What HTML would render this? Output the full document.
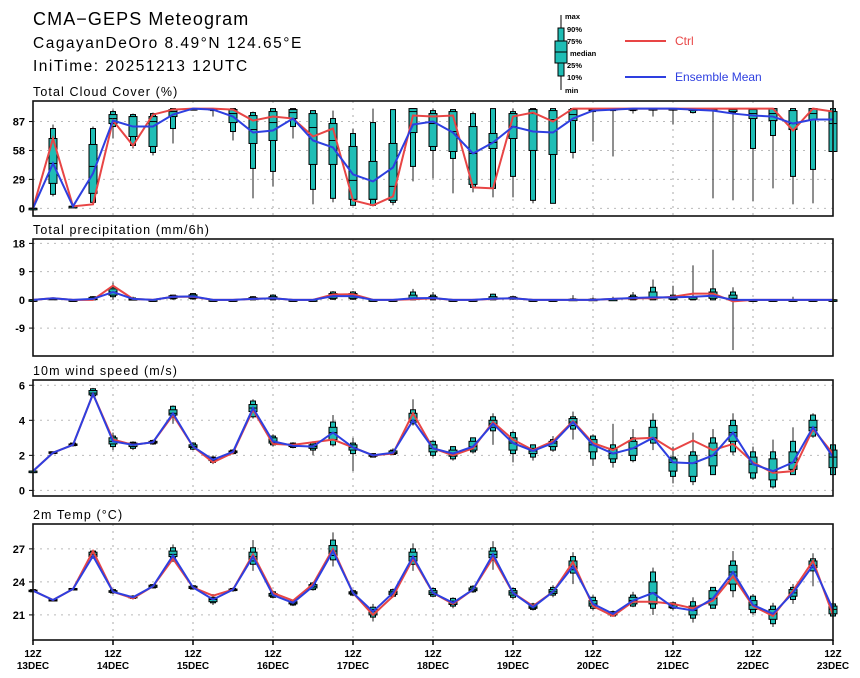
<!DOCTYPE html>
<html><head><meta charset="utf-8"><style>
body{margin:0;background:#fff;}
svg{display:block;font-family:"Liberation Sans",sans-serif;}
</style></head><body>
<svg id="chart" width="860" height="678" viewBox="0 0 860 678" xmlns="http://www.w3.org/2000/svg">
<rect width="860" height="678" fill="#fff"/>
<text x="33" y="25" font-size="18" letter-spacing="1.1">CMA−GEPS Meteogram</text>
<text x="33" y="48" font-size="15.5" letter-spacing="1.5">CagayanDeOro 8.49°N 124.65°E</text>
<text x="33" y="71" font-size="15.5" letter-spacing="1.5">IniTime: 20251213 12UTC</text>
<g>
<line x1="561" y1="15" x2="561" y2="90" stroke="#000"/>
<rect x="558" y="28" width="6" height="48" fill="#1fbdb5" stroke="#000"/>
<rect x="555" y="41" width="12" height="22" fill="#1fbdb5" stroke="#000"/>
<line x1="555" y1="52" x2="567" y2="52" stroke="#000"/>
<g font-size="7.5" font-weight="bold">
<text x="565" y="19">max</text><text x="567" y="32">90%</text><text x="567" y="44">75%</text>
<text x="570" y="56">median</text><text x="567" y="68">25%</text><text x="567" y="80">10%</text><text x="565" y="93">min</text></g>
</g>
<g><line x1="625" y1="41" x2="666" y2="41" stroke="#e84545" stroke-width="2"/><text x="675" y="45" font-size="12" fill="#e84545">Ctrl</text></g>
<g><line x1="625" y1="77" x2="666" y2="77" stroke="#2e3fe0" stroke-width="2"/><text x="675" y="81" font-size="12" fill="#2e3fe0">Ensemble Mean</text></g>
<g id="panels"></g>
</svg>
<script>
// ===== data (index = 6-hourly step from 12Z 13DEC) =====
const dayLabels = ["13DEC","14DEC","15DEC","16DEC","17DEC","18DEC","19DEC","20DEC","21DEC","22DEC","23DEC"];
// cloud cover boxes: [min,p10,p25,median,p75,p90,max]
const cloudBox = [[0,0,0,0,0,0,0],[12,14,25,45,70,80,84],[1,1,1,2,2,2,2],[5,6,15,42,64,80,82],[70,82,85,90,94,97,99],[60,63,72,72,92,94,95],[53,56,62,87,92,95,96],[65,80,92,97,99,100,100],[99,100,100,100,100,100,100],[92,98,99,100,100,100,100],[68,77,86,95,99,100,100],[10,40,65,79,93,96,97],[22,37,68,86,97,100,100],[70,82,90,96,99,100,100],[4,19,44,81,95,98,98],[6,10,44,68,85,90,98],[3,3,9,28,62,75,80],[2,3,9,9,47,86,100],[3,6,8,22,65,99,99],[27,42,76,97,100,100,100],[30,58,62,85,95,98,100],[15,50,57,77,97,99,99],[16,21,24,55,82,95,97],[11,20,60,66,75,100,100],[11,32,70,82,95,97,100],[5,8,58,95,99,100,100],[5,5,54,89,98,100,100],[50,56,88,94,99,100,100],[67,97,98,99,100,100,100],[52,98,99,100,100,100,100],[95,98,99,100,100,100,100],[92,99,100,100,100,100,100],[84,100,100,100,100,100,100],[95,96,98,99,100,100,100],[10,99,99,100,100,100,100],[8,96,97,99,100,100,100],[7,60,90,95,99,100,100],[20,73,88,95,100,100,100],[4,32,79,85,98,100,100],[5,39,89,95,100,100,100],[55,57,57,85,97,100,100]];
const cloudCtrl = [0,70,2,4,88,63,94,99,100,100,99,88,92,90,72,80,8,3,12,93,92,93,21,20,92,96,87,100,100,100,100,100,100,100,100,100,100,100,78,100,97];
const cloudMean = [0,45,2,35,88,82,82,94,100,99,92,76,78,90,68,61,34,27,41,84,87,76,55,66,82,77,76,90,98,99,100,100,100,99,98,95,93,92,85,89,89];
// precipitation
const precBox = [[0,0,0,0,0,0,0],[0.3,0.4,0.5,0.5,0.5,0.6,0.6],[0,0,0,0,0,0,0],[0,0,0.1,0.3,0.8,1,1.2],[0,1,1.5,2.5,3.5,4,5.5],[0,0,0.1,0.2,0.4,0.6,1],[0,0,0,0,0,0,0],[0,0.3,0.5,0.9,1.3,1.5,1.6],[0,0.3,0.5,1.1,1.6,2,2.2],[0,0,0,0,0,0,0],[0,0,0,0,0,0,0],[0,0,0.1,0.3,0.7,1,1.2],[0,0,0.2,0.5,1,1.5,1.8],[0,0,0,0,0,0,0],[0,0,0,0,0,0,0],[0,0.2,0.5,1.2,2,2.5,2.8],[0,0.2,0.5,1.2,2,2.5,2.8],[0,0,0,0,0,0,0],[0,0,0,0,0,0,0],[0,0,0.3,0.5,1.5,2.5,3.5],[0,0,0.3,0.6,1,1.5,2.5],[0,0,0,0,0,0,0],[0,0,0,0,0,0,0.3],[0,0,0.2,0.4,1,1.8,2],[0,0.2,0.3,0.5,0.8,1,1.2],[0,0,0,0,0,0,0],[0,0,0,0,0,0,0],[0,0,0,0,0.2,0.3,1.5],[0,0,0,0,0.2,0.3,0.8],[0,0,0,0.1,0.2,0.3,1],[0,0,0.2,0.5,1,1.5,2.5],[0,0,0.3,0.8,2.5,4,6.5],[0,0,0.2,0.8,1,1.5,4.5],[0,0,0.2,0.8,1,1,11],[0,0,0.5,1.2,2.5,3.5,16],[-16,0,0.2,0.5,1.5,2.5,4],[0,0,0,0,0,0,0],[0,0,0,0,0,0,0],[0,0,0,0,0,0,1],[0,0,0,0,0,0,0],[0,0,0,0,0,0,0]];
const precCtrl = [0,0.5,0,0,4.5,0.3,0,1,1,0,0,0.3,0.5,0,0,1.7,1.8,0,0,0.2,0.5,0,0,0.3,0.5,0,0,0,0,0.3,0.5,0.5,1,2,2,-0.5,0,0,0,0,0];
const precMean = [0,0.5,0,0.3,2.5,0.3,0,1,1.1,0,0,0.3,0.5,0,0,1.2,1.2,0,0,0.5,0.6,0,0,0.4,0.5,0,0,0,0,0.3,0.6,0.8,0.8,1,1.3,0,0,0,0,0,0];
// 10m wind
const windBox = [[1.1,1.1,1.1,1.1,1.1,1.1,1.1],[2.1,2.1,2.15,2.15,2.2,2.2,2.2],[2.5,2.55,2.6,2.6,2.65,2.7,2.7],[5.3,5.4,5.45,5.55,5.7,5.8,5.85],[2.3,2.5,2.65,2.8,3.0,3.1,3.3],[2.3,2.4,2.5,2.6,2.7,2.75,2.8],[2.6,2.65,2.7,2.75,2.8,2.85,2.9],[3.8,4.2,4.3,4.4,4.6,4.8,4.85],[2.3,2.35,2.45,2.5,2.6,2.7,2.75],[1.5,1.6,1.7,1.75,1.85,1.9,2.0],[2.05,2.1,2.15,2.2,2.25,2.3,2.35],[4.1,4.2,4.5,4.7,4.9,5.1,5.2],[2.5,2.6,2.7,2.8,3.0,3.1,3.2],[2.4,2.45,2.5,2.55,2.65,2.7,2.75],[2.0,2.3,2.4,2.5,2.6,2.7,2.8],[2.5,2.6,2.9,3.3,3.6,3.9,4.3],[1.1,2.1,2.3,2.45,2.6,2.7,3.0],[1.9,1.9,1.95,2.0,2.05,2.1,2.1],[2.0,2.05,2.1,2.15,2.25,2.3,2.4],[3.7,3.8,3.9,4.0,4.4,4.6,5.2],[1.9,2.0,2.2,2.4,2.6,2.8,2.9],[1.7,1.8,1.95,2.1,2.3,2.5,2.5],[2.1,2.2,2.3,2.5,2.8,3.0,3.0],[2.6,3.4,3.6,3.8,4.0,4.2,4.4],[1.6,2.1,2.3,2.7,3.0,3.3,3.4],[1.7,1.9,2.1,2.25,2.4,2.6,2.6],[2.2,2.3,2.5,2.7,2.8,2.9,3.1],[2.9,3.5,3.7,3.9,4.1,4.2,4.5],[1.4,1.8,2.2,2.6,2.9,3.1,3.2],[1.3,1.6,1.8,2.1,2.4,2.6,3.8],[1.6,1.7,2.0,2.4,2.8,3.0,3.5],[2.3,2.7,2.9,3.0,3.6,4.0,4.4],[0.4,0.8,1.1,1.6,1.8,1.9,2.5],[0.3,0.5,0.8,1.55,2.0,2.2,3.3],[0.9,0.9,1.4,2.0,2.7,3.0,3.5],[2.0,2.2,2.8,3.3,3.7,4.0,4.4],[0.6,0.7,1.0,1.5,1.9,2.2,2.5],[0.1,0.2,0.6,1.1,1.8,2.2,2.9],[0.9,0.9,1.2,1.6,2.2,2.8,3.6],[3.0,3.1,3.4,3.6,4.0,4.3,4.4],[0.8,0.9,1.3,1.9,2.3,2.6,2.6]];
const windCtrl = [1.1,2.15,2.6,5.5,2.9,2.6,2.75,4.3,2.5,1.6,2.15,4.6,2.65,2.6,2.75,2.9,2.45,2.0,2.1,4.4,2.4,2.0,2.4,3.9,2.9,2.3,2.8,3.95,2.7,2.3,2.95,3.0,2.3,2.85,2.3,2.65,1.6,1.0,1.1,3.5,2.1];
const windMean = [1.1,2.15,2.6,5.5,2.8,2.6,2.75,4.4,2.5,1.75,2.2,4.7,2.8,2.55,2.5,3.3,2.45,2.0,2.15,4.0,2.4,2.1,2.5,3.8,2.7,2.25,2.7,3.9,2.6,2.1,2.4,3.0,1.6,1.55,2.0,3.3,1.5,1.1,1.6,3.6,1.9];
// 2m temperature
const tempBox = [[23.1,23.1,23.15,23.2,23.25,23.3,23.3],[22.3,22.3,22.3,22.35,22.4,22.4,22.4],[23.3,23.3,23.3,23.35,23.4,23.4,23.4],[26.1,26.2,26.3,26.5,26.7,26.8,26.9],[22.9,23.0,23.05,23.1,23.2,23.3,23.3],[22.4,22.5,22.55,22.6,22.7,22.7,22.8],[23.4,23.45,23.5,23.6,23.7,23.75,23.8],[25.8,26.1,26.3,26.5,26.8,27.1,27.4],[23.3,23.35,23.4,23.5,23.6,23.65,23.7],[21.9,22.1,22.2,22.4,22.5,22.6,22.9],[23.1,23.2,23.25,23.3,23.35,23.4,23.5],[25.0,25.6,25.9,26.3,26.7,27.1,27.8],[22.5,22.6,22.7,22.8,22.95,23.1,23.2],[21.8,21.9,22.0,22.1,22.2,22.3,22.4],[23.2,23.3,23.45,23.6,23.75,23.9,24.0],[25.4,26.0,26.4,26.8,27.3,27.8,28.5],[22.7,22.8,22.9,23.0,23.1,23.2,23.3],[20.4,20.8,21.0,21.3,21.5,21.7,22.0],[22.6,22.7,22.85,23.0,23.15,23.3,23.4],[25.0,25.6,25.9,26.3,26.7,27.0,27.5],[22.6,22.7,22.85,23.0,23.2,23.4,23.5],[21.6,21.8,21.95,22.1,22.25,22.5,22.6],[23.0,23.1,23.2,23.3,23.45,23.6,23.7],[25.1,26.0,26.2,26.5,26.8,27.1,27.7],[22.4,22.6,22.8,23.0,23.2,23.4,23.5],[21.4,21.5,21.6,21.7,21.85,22.0,22.1],[22.6,22.8,22.95,23.1,23.3,23.5,23.7],[23.8,24.8,25.1,25.4,25.9,26.3,26.7],[21.4,21.6,21.8,22.0,22.3,22.6,22.8],[20.9,20.9,21.0,21.1,21.2,21.3,21.4],[21.7,21.8,22.0,22.3,22.6,22.8,23.1],[21.0,21.6,22.0,23.0,24.0,24.9,25.3],[21.4,21.6,21.65,21.7,21.9,22.1,22.2],[20.3,20.7,21.0,21.4,21.8,22.2,22.6],[21.6,21.6,21.9,22.5,23.2,23.5,23.5],[22.6,23.2,23.8,24.9,25.5,25.9,26.8],[21.0,21.2,21.5,21.9,22.3,22.7,22.9],[19.9,20.2,20.6,21.1,21.5,21.8,22.1],[22.0,22.4,22.7,23.0,23.3,23.5,23.8],[23.6,25.0,25.3,25.5,25.9,26.1,26.6],[20.8,20.9,21.1,21.5,21.8,22.0,22.2]];
const tempCtrl = [23.2,22.35,23.35,26.8,23.1,22.5,23.6,26.1,23.5,22.75,23.3,26.5,23.0,22.3,23.8,27.0,23.0,21.0,22.7,26.1,23.0,22.0,23.3,26.2,23.0,21.8,23.1,25.8,21.8,20.9,22.2,22.2,22.0,21.6,22.3,24.5,21.8,20.9,23.2,25.9,21.0];
const tempMean = [23.2,22.35,23.35,26.35,23.1,22.6,23.6,26.4,23.5,22.4,23.3,26.3,22.8,22.1,23.6,26.8,23.0,21.3,23.0,26.3,23.0,22.1,23.3,26.5,23.0,21.7,23.1,25.4,22.0,21.1,22.3,23.0,21.7,21.4,22.5,24.9,21.9,21.1,23.0,25.5,21.5];
const cloudTicks = [0,29,58,87];
const precTicks = [-9,0,9,18];
const windTicks = [0,2,4,6];
const tempTicks = [21,24,27];

// ===== drawing =====
const NS = "http://www.w3.org/2000/svg";
const root = document.getElementById("panels");
const X0 = 33, X1 = 833, N = 40;
const xScale = i => X0 + (X1 - X0) * i / N;
function mk(tag, attrs, parent) {
  const e = document.createElementNS(NS, tag);
  for (const k in attrs) e.setAttribute(k, attrs[k]);
  (parent || root).appendChild(e);
  return e;
}
const panels = [
  {name:"cloud", title:"Total Cloud Cover (%)", top:101, bot:216, vmin:-7.7, vmax:107.6, ticks:cloudTicks, box:cloudBox, ctrl:cloudCtrl, mean:cloudMean},
  {name:"precip", title:"Total precipitation (mm/6h)", top:239, bot:356, vmin:-17.9, vmax:19.4, ticks:precTicks, box:precBox, ctrl:precCtrl, mean:precMean},
  {name:"wind", title:"10m wind speed (m/s)", top:380, bot:496, vmin:-0.32, vmax:6.3, ticks:windTicks, box:windBox, ctrl:windCtrl, mean:windMean},
  {name:"temp", title:"2m Temp (°C)", top:524, bot:640, vmin:18.72, vmax:29.26, ticks:tempTicks, box:tempBox, ctrl:tempCtrl, mean:tempMean}
];
panels.forEach(p => {
  const g = mk("g", {});
  
  
  const y = v => p.bot - (v - p.vmin) / (p.vmax - p.vmin) * (p.bot - p.top);
  const t = mk("text", {x: X0, y: p.top - 5, "font-size": 12.5, "letter-spacing": 1.1}, g);
  t.textContent = p.title;
  
  
  for (let d = 1; d < dayLabels.length - 1; d++) {
    const gl = mk("line", {x1: xScale(d*4), x2: xScale(d*4), y1: p.top, y2: p.bot, stroke: "#aaa", "stroke-dasharray": "2,5"}, g);
    
    
  }
  p.ticks.forEach(v => {
    const hl = mk("line", {x1: X0, x2: X1, y1: y(v), y2: y(v), stroke: "#bbb", "stroke-dasharray": "2,5"}, g);
    
    
    mk("line", {x1: X0 - 4, x2: X0, y1: y(v), y2: y(v), stroke: "#000"}, g);
    const tl = mk("text", {x: X0 - 8, y: y(v) + 4, "font-size": 11, "font-weight": "bold", "text-anchor": "end"}, g);
    tl.textContent = v;
    
    
  });
  p.box.forEach((b, i) => {
    const cx = xScale(i);
    const bg = mk("g", {}, g);
    
    
    mk("line", {x1: cx, x2: cx, y1: y(b[0]), y2: y(b[6]), stroke: "#444", "stroke-width": 1.2}, bg);
    mk("rect", {x: cx - 2.5, y: y(b[5]), width: 5, height: Math.max(1.5, y(b[1]) - y(b[5])), fill: "#1fbdb5", stroke: "#000", "stroke-width": 1}, bg);
    mk("rect", {x: cx - 4, y: y(b[4]), width: 8, height: Math.max(1.5, y(b[2]) - y(b[4])), fill: "#1fbdb5", stroke: "#000", "stroke-width": 1}, bg);
    mk("line", {x1: cx - 4, x2: cx + 4, y1: y(b[3]), y2: y(b[3]), stroke: "#000", "stroke-width": 1}, bg);
  });
  const line = (arr, col, nm) => {
    const pl = mk("polyline", {points: arr.map((v, i) => xScale(i) + "," + y(v)).join(" "), fill: "none", stroke: col, "stroke-width": 2}, g);
    
    
  };
  line(p.ctrl, "#e84545", p.name + '-ctrl-line');
  line(p.mean, "#2e3fe0", p.name + '-mean-line');
  const fr = mk("rect", {x: X0, y: p.top, width: X1 - X0, height: p.bot - p.top, fill: "none", stroke: "#111", "stroke-width": 1.6}, g);
  
  
});
dayLabels.forEach((d, k) => {
  const x = xScale(k * 4);
  mk("line", {x1: x, x2: x, y1: 640, y2: 645, stroke: "#000", "stroke-width": 1.5});
  const a = mk("text", {x: x, y: 657, "font-size": 10, "font-weight": "bold", "text-anchor": "middle"});
  a.textContent = "12Z";
  
  
  const b = mk("text", {x: x, y: 669, "font-size": 10, "font-weight": "bold", "text-anchor": "middle"});
  b.textContent = d;
  
  
});
</script>
</body></html>
